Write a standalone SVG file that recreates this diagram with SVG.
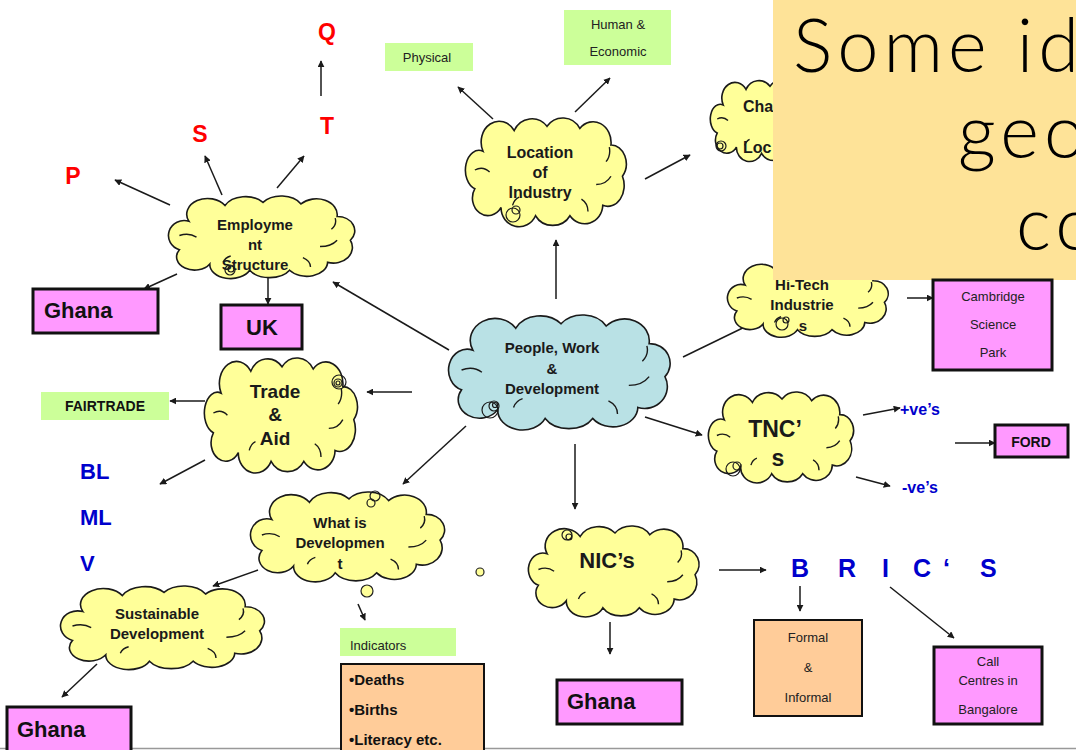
<svg xmlns="http://www.w3.org/2000/svg" xmlns:xlink="http://www.w3.org/1999/xlink" width="1076" height="750" viewBox="0 0 1076 750">
<style>
.cl{stroke:#1a1a1a;stroke-width:1.6}
.cr{fill:none;stroke:#1a1a1a;stroke-width:1.4}
.yc{fill:#ffff99}
.bc{fill:#b9e1e5}
.ct{font-family:"Liberation Sans",Arial,sans-serif;font-weight:bold;fill:#1a1a1a;text-anchor:middle}
.pink{fill:#ff99ff;stroke:#111;stroke-width:3}
.org{fill:#ffcc99;stroke:#111;stroke-width:2}
.grn{fill:#ccff99}
.red{font-family:"Liberation Sans",Arial,sans-serif;font-weight:bold;fill:#ff0000;font-size:23px;text-anchor:middle}
.blue{font-family:"Liberation Sans",Arial,sans-serif;font-weight:bold;fill:#0000cc}
.sm{font-family:"Liberation Sans",Arial,sans-serif;fill:#222;font-size:13px;text-anchor:middle}
.st{text-anchor:start}
.bx{font-family:"Liberation Sans",Arial,sans-serif;font-weight:bold;fill:#111}
.conn line{stroke:#1a1a1a;stroke-width:1.5;marker-end:url(#ah)}
.sp{fill:none;stroke:#1a1a1a;stroke-width:1.2}
.big{font-family:"Lato","DejaVu Sans",sans-serif;font-weight:300;font-size:74px;letter-spacing:5px;fill:#000}
</style>
<defs>
<marker id="ah" viewBox="0 0 10 10" refX="9" refY="5" markerWidth="7" markerHeight="7" markerUnits="userSpaceOnUse" orient="auto">
<path d="M0,0 L10,5 L0,10 z" fill="#1a1a1a"/>
</marker>
<g id="cloud">
<path class="cl" vector-effect="non-scaling-stroke" d="M22,32 A22,20 0 0 1 60,12 A24,20 0 0 1 100,8 A24,20 0 0 1 140,10 A22,20 0 0 1 178,26 A18,18 0 0 1 192,56 A20,20 0 0 1 168,84 A22,18 0 0 1 128,94 A24,18 0 0 1 86,94 A22,18 0 0 1 44,86 A18,16 0 0 1 12,68 A14,16 0 0 1 22,32 Z"/>
<path class="cr" vector-effect="non-scaling-stroke" d="M12,50 Q22,46 30,52 M178,56 Q172,64 160,64 M58,84 Q60,78 66,76 M150,90 Q150,82 142,78 M176,28 Q178,36 172,42"/>
</g>
</defs>
<rect width="1076" height="750" fill="#ffffff"/>
<line x1="0" y1="748.5" x2="1076" y2="748.5" stroke="#999" stroke-width="1.5"/>

<g id="connectors" class="conn">
<line x1="170" y1="205" x2="115" y2="180"/>
<line x1="222" y1="195" x2="205" y2="156"/>
<line x1="277" y1="188" x2="304" y2="156"/>
<line x1="321" y1="96" x2="321" y2="61"/>
<line x1="177" y1="274" x2="144" y2="289"/>
<line x1="268" y1="272" x2="268" y2="304"/>
<line x1="449" y1="350" x2="333" y2="282"/>
<line x1="493" y1="119" x2="458" y2="87"/>
<line x1="575" y1="112" x2="610" y2="78"/>
<line x1="645" y1="179" x2="690" y2="155"/>
<line x1="556" y1="299" x2="556" y2="240"/>
<line x1="683" y1="357" x2="755" y2="322"/>
<line x1="907" y1="298" x2="933" y2="298"/>
<line x1="412" y1="392" x2="367" y2="392"/>
<line x1="205" y1="401" x2="170" y2="401"/>
<line x1="205" y1="460" x2="160" y2="484"/>
<line x1="466" y1="426" x2="403" y2="484"/>
<line x1="358" y1="604" x2="365" y2="620"/>
<line x1="258" y1="570" x2="213" y2="586"/>
<line x1="97" y1="664" x2="62" y2="697"/>
<line x1="645" y1="417" x2="702" y2="435"/>
<line x1="863" y1="415" x2="900" y2="408"/>
<line x1="856" y1="477" x2="890" y2="486"/>
<line x1="955" y1="443" x2="995" y2="443"/>
<line x1="575" y1="444" x2="575" y2="509"/>
<line x1="719" y1="570" x2="766" y2="570"/>
<line x1="800" y1="586" x2="800" y2="611"/>
<line x1="890" y1="587" x2="954" y2="638"/>
<line x1="610" y1="622" x2="610" y2="654"/>
</g>

<g id="employment">
<use xlink:href="#cloud" class="yc" transform="translate(168,196) scale(0.95,0.79)"/>
<circle class="sp" cx="230" cy="270" r="5"/><circle class="sp" cx="231" cy="269" r="3"/>
<text class="ct" font-size="15" x="255" y="230">Employme</text>
<text class="ct" font-size="15" x="255" y="250">nt</text>
<text class="ct" font-size="15" x="255" y="270">Structure</text>
</g>
<g id="p"><text class="red" x="73" y="184">P</text></g>
<g id="s"><text class="red" x="200" y="142">S</text></g>
<g id="t"><text class="red" x="327" y="134">T</text></g>
<g id="q"><text class="red" x="327" y="40">Q</text></g>
<g id="ghana1"><rect class="pink" x="33" y="289" width="125" height="44"/><text class="bx" font-size="22" x="44" y="318">Ghana</text></g>
<g id="uk"><rect class="pink" x="221" y="305" width="81" height="44"/><text class="bx" font-size="22" x="262" y="335" text-anchor="middle">UK</text></g>

<g id="location">
<use xlink:href="#cloud" class="yc" transform="translate(465,118) scale(0.82,1.04)"/>
<circle class="sp" cx="513" cy="215" r="7"/><circle class="sp" cx="516" cy="210" r="4"/>
<text class="ct" font-size="16" x="540" y="158">Location</text>
<text class="ct" font-size="16" x="540" y="178">of</text>
<text class="ct" font-size="16" x="540" y="198">Industry</text>
</g>
<g id="physical"><rect class="grn" x="385" y="43" width="88" height="28"/><text class="sm" x="427" y="62">Physical</text></g>
<g id="human"><rect class="grn" x="564" y="10" width="107" height="55"/><text class="sm" x="618" y="29">Human &amp;</text><text class="sm" x="618" y="56">Economic</text></g>

<g id="change">
<use xlink:href="#cloud" class="yc" transform="translate(710,80) scale(0.6,0.78)"/>
<circle class="sp" cx="721" cy="146" r="5"/><circle class="sp" cx="720" cy="146" r="3"/>
<text class="ct st" font-size="16" x="743" y="112">Cha</text>
<text class="ct st" font-size="16" x="743" y="153">Loc</text>
</g>

<g id="hitech">
<use xlink:href="#cloud" class="yc" transform="translate(727,262) scale(0.82,0.72)"/>
<circle class="sp" cx="782" cy="324" r="6"/><circle class="sp" cx="786" cy="320" r="3"/>
<text class="ct" font-size="15" x="802" y="290">Hi-Tech</text>
<text class="ct" font-size="15" x="802" y="310">Industrie</text>
<text class="ct" font-size="15" x="803" y="331">s</text>
</g>

<g id="panel">
<rect x="773" y="0" width="303" height="280" fill="#fee398"/>
<text class="big" x="793" y="72">Some id</text>
<text class="big" x="958" y="158">geo</text>
<text class="big" x="1016" y="250">co</text>
</g>

<g id="cambridge"><rect class="pink" x="933" y="280" width="119" height="90"/><text class="sm" x="993" y="301">Cambridge</text><text class="sm" x="993" y="329">Science</text><text class="sm" x="993" y="357">Park</text></g>

<g id="center">
<use xlink:href="#cloud" class="bc" transform="translate(448,315) scale(1.13,1.1)"/>
<circle class="sp" cx="490" cy="410" r="8"/><circle class="sp" cx="494" cy="406" r="5"/><circle class="sp" cx="495" cy="405" r="2.5"/>
<text class="ct" font-size="15" x="552" y="353">People, Work</text>
<text class="ct" font-size="15" x="552" y="374">&amp;</text>
<text class="ct" font-size="15" x="552" y="394">Development</text>
</g>

<g id="trade">
<use xlink:href="#cloud" class="yc" transform="translate(204,358) scale(0.78,1.1)"/>
<circle class="sp" cx="339" cy="382" r="7"/><circle class="sp" cx="338" cy="383" r="4"/><circle class="sp" cx="338" cy="383" r="2"/>
<text class="ct" font-size="19" x="275" y="398">Trade</text>
<text class="ct" font-size="19" x="275" y="421">&amp;</text>
<text class="ct" font-size="19" x="275" y="445">Aid</text>
</g>
<g id="fairtrade"><rect class="grn" x="41" y="392" width="128" height="28"/><text class="bx" font-size="14" x="105" y="411" text-anchor="middle">FAIRTRADE</text></g>
<g id="bl"><text class="blue" font-size="22" x="80" y="479">BL</text></g>
<g id="ml"><text class="blue" font-size="22" x="80" y="525">ML</text></g>
<g id="v"><text class="blue" font-size="22" x="80" y="571">V</text></g>

<g id="whatis">
<use xlink:href="#cloud" class="yc" transform="translate(250,492) scale(0.99,0.86)"/>
<circle class="sp" cx="375" cy="496" r="5"/><circle class="sp" cx="371" cy="503" r="4"/>
<text class="ct" font-size="15" x="340" y="528">What is</text>
<text class="ct" font-size="15" x="340" y="548">Developmen</text>
<text class="ct" font-size="15" x="340" y="569">t</text>
</g>
<g id="bubbles"><circle cx="367" cy="591" r="6" fill="#ffff99" stroke="#222" stroke-width="1.2"/><circle cx="480" cy="572" r="4" fill="#ffff99" stroke="#222" stroke-width="1.2"/></g>
<g id="indicators"><rect class="grn" x="340" y="628" width="116" height="28"/><text class="sm st" x="350" y="650">Indicators</text></g>
<g id="list"><rect class="org" x="341" y="664" width="143" height="92"/>
<text class="bx" font-size="15" x="349" y="685">•Deaths</text>
<text class="bx" font-size="15" x="349" y="715">•Births</text>
<text class="bx" font-size="15" x="349" y="745">•Literacy etc.</text></g>

<g id="sustainable">
<use xlink:href="#cloud" class="yc" transform="translate(60,586) scale(1.04,0.8)"/>
<text class="ct" font-size="15" x="157" y="619">Sustainable</text>
<text class="ct" font-size="15" x="157" y="639">Development</text>
</g>
<g id="ghana3"><rect class="pink" x="7" y="707" width="124" height="50"/><text class="bx" font-size="22" x="17" y="737">Ghana</text></g>

<g id="tnc">
<use xlink:href="#cloud" class="yc" transform="translate(708,392) scale(0.74,0.87)"/>
<circle class="sp" cx="733" cy="469" r="7"/><circle class="sp" cx="737" cy="466" r="4"/>
<text class="ct" font-size="23" x="775" y="437">TNC’</text>
<text class="ct" font-size="23" x="778" y="466">s</text>
</g>
<g id="pos"><text class="blue" font-size="16" x="900" y="415">+ve’s</text></g>
<g id="neg"><text class="blue" font-size="16" x="902" y="493">-ve’s</text></g>
<g id="ford"><rect class="pink" x="995" y="425" width="73" height="32"/><text class="bx" font-size="14" x="1031" y="447" text-anchor="middle">FORD</text></g>

<g id="nics">
<use xlink:href="#cloud" class="yc" transform="translate(528,526) scale(0.87,0.87)"/>
<circle class="sp" cx="567" cy="535" r="5"/><circle class="sp" cx="569" cy="537" r="3"/>
<text class="ct" font-size="22" x="607" y="568">NIC’s</text>
</g>
<g id="brics"><text class="blue" font-size="25" y="577"><tspan x="791">B</tspan><tspan x="838">R</tspan><tspan x="882">I</tspan><tspan x="913">C</tspan><tspan x="943">‘</tspan><tspan x="980">S</tspan></text></g>
<g id="formal"><rect class="org" x="754" y="620" width="108" height="96"/><text class="sm" font-size="14" x="808" y="642">Formal</text><text class="sm" font-size="14" x="808" y="672">&amp;</text><text class="sm" font-size="14" x="808" y="702">Informal</text></g>
<g id="callcentres"><rect class="pink" x="934" y="647" width="108" height="77"/><text class="sm" x="988" y="666">Call</text><text class="sm" x="988" y="685">Centres in</text><text class="sm" x="988" y="714">Bangalore</text></g>
<g id="ghana2"><rect class="pink" x="557" y="680" width="125" height="44"/><text class="bx" font-size="22" x="567" y="709">Ghana</text></g>
</svg>
